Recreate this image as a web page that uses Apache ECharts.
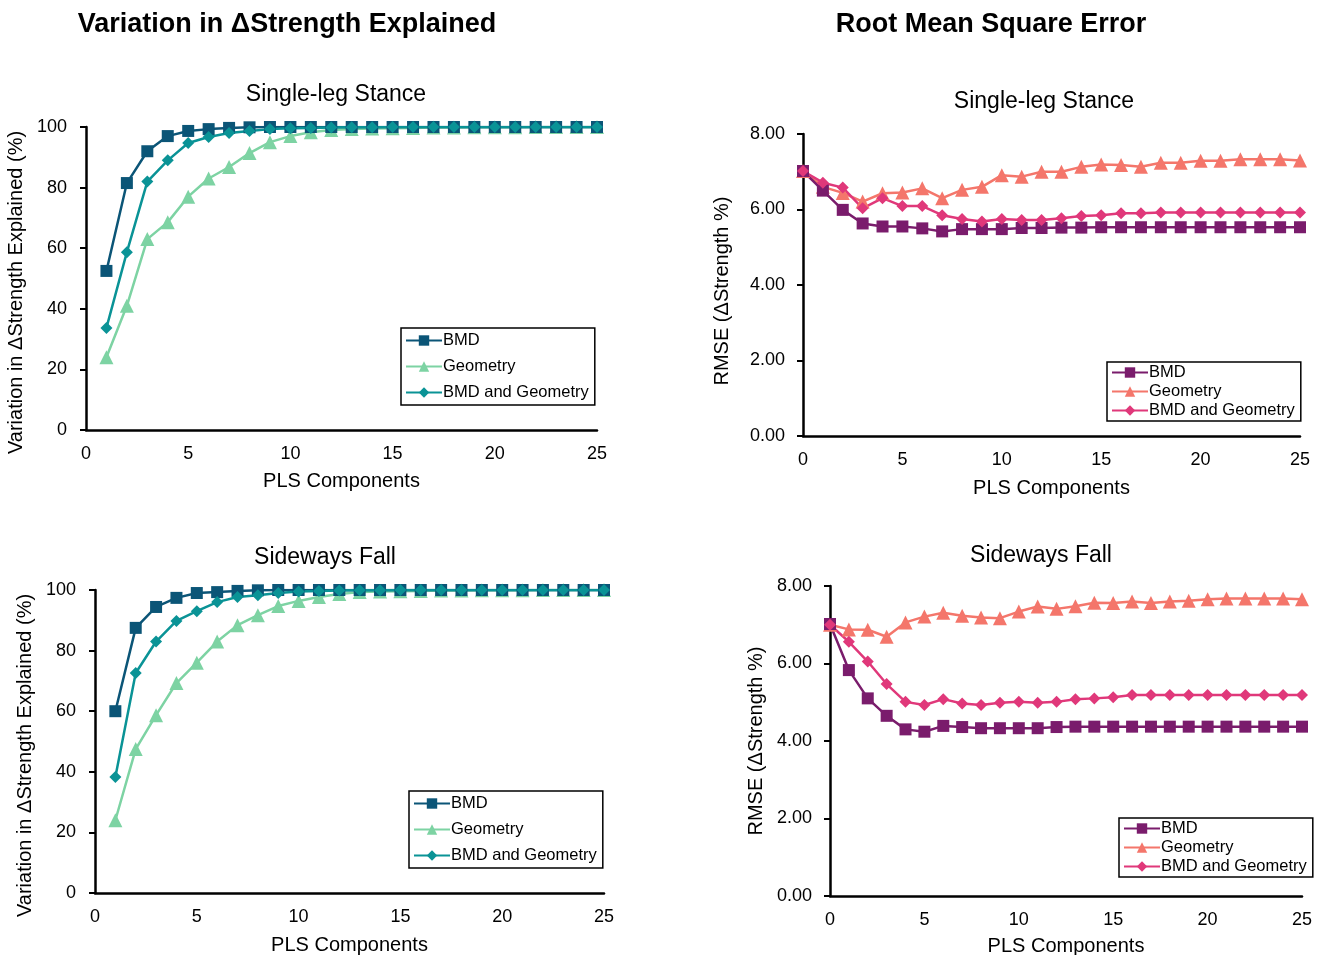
<!DOCTYPE html>
<html>
<head>
<meta charset="utf-8">
<script src="https://cdn.jsdelivr.net/npm/echarts@6/dist/echarts.min.js"></script>
<style>
  body { margin: 0; background: #fff; }
  .box { position: absolute; }
</style>
</head>
<body>
<div id="tl" class="box" style="left:0;top:0;width:660px;height:500px"></div>
<div id="tr" class="box" style="left:660px;top:0;width:661px;height:500px"></div>
<div id="bl" class="box" style="left:0;top:500px;width:660px;height:455px"></div>
<div id="br" class="box" style="left:660px;top:500px;width:661px;height:455px"></div>
<script>
var plsLeft = [1, 2, 3, 4, 5, 6, 7, 8, 9, 10, 11, 12, 13, 14, 15, 16, 17, 18, 19, 20, 21, 22, 23, 24, 25];
var plsRight = [0, 1, 2, 3, 4, 5, 6, 7, 8, 9, 10, 11, 12, 13, 14, 15, 16, 17, 18, 19, 20, 21, 22, 23, 24, 25];
var seriesNames = ['BMD', 'Geometry', 'BMD and Geometry'];

// variation explained (%), single-leg stance
var stanceVarBmd = [52.5, 81.5, 92.0, 97.0, 98.7, 99.3, 99.7, 99.9, 100, 100, 100, 100, 100, 100, 100, 100, 100, 100, 100, 100, 100, 100, 100, 100, 100];
var stanceVarGeo = [24.0, 41.0, 63.0, 68.6, 77.0, 83.0, 86.8, 91.4, 95.0, 97.0, 98.3, 99.0, 99.3, 99.5, 99.6, 99.7, 99.8, 99.8, 99.9, 99.9, 99.9, 100, 100, 100, 100];
var stanceVarBoth = [33.7, 58.7, 82.0, 89.0, 94.7, 96.7, 98.0, 98.7, 99.3, 99.6, 99.7, 99.8, 99.9, 99.9, 100, 100, 100, 100, 100, 100, 100, 100, 100, 100, 100];

// variation explained (%), sideways fall
var fallVarBmd = [60.0, 87.5, 94.4, 97.4, 99.0, 99.3, 99.7, 99.9, 100, 100, 100, 100, 100, 100, 100, 100, 100, 100, 100, 100, 100, 100, 100, 100, 100];
var fallVarGeo = [24.0, 47.5, 58.7, 69.3, 76.0, 83.0, 88.4, 91.7, 94.7, 96.4, 97.7, 98.7, 99.3, 99.5, 99.6, 99.7, 99.8, 99.8, 99.9, 99.9, 99.9, 100, 100, 100, 100];
var fallVarBoth = [38.3, 72.6, 83.0, 89.8, 93.0, 96.0, 97.7, 98.3, 99.0, 99.5, 99.7, 99.8, 99.9, 99.9, 100, 100, 100, 100, 100, 100, 100, 100, 100, 100, 100];

// RMSE, single-leg stance
var stanceRmseBmd = [7.02, 6.50, 5.99, 5.63, 5.55, 5.55, 5.50, 5.42, 5.48, 5.48, 5.48, 5.51, 5.51, 5.52, 5.52, 5.53, 5.53, 5.53, 5.53, 5.53, 5.53, 5.53, 5.53, 5.53, 5.53, 5.53];
var stanceRmseGeo = [7.02, 6.60, 6.44, 6.21, 6.43, 6.45, 6.56, 6.30, 6.52, 6.60, 6.91, 6.87, 7.00, 7.00, 7.13, 7.19, 7.18, 7.13, 7.24, 7.24, 7.29, 7.29, 7.33, 7.33, 7.33, 7.30];
var stanceRmseBoth = [7.02, 6.71, 6.58, 6.03, 6.30, 6.09, 6.09, 5.85, 5.75, 5.68, 5.75, 5.72, 5.72, 5.77, 5.83, 5.85, 5.90, 5.90, 5.92, 5.92, 5.92, 5.92, 5.92, 5.92, 5.92, 5.92];

// RMSE, sideways fall
var fallRmseBmd = [7.02, 5.83, 5.10, 4.65, 4.30, 4.24, 4.39, 4.36, 4.33, 4.33, 4.33, 4.33, 4.36, 4.37, 4.37, 4.37, 4.37, 4.37, 4.37, 4.37, 4.37, 4.37, 4.37, 4.37, 4.37, 4.37];
var fallRmseGeo = [7.00, 6.88, 6.87, 6.69, 7.06, 7.21, 7.31, 7.23, 7.19, 7.17, 7.34, 7.47, 7.41, 7.48, 7.57, 7.56, 7.60, 7.56, 7.60, 7.62, 7.66, 7.68, 7.68, 7.68, 7.68, 7.66];
var fallRmseBoth = [7.00, 6.56, 6.05, 5.47, 5.01, 4.93, 5.08, 4.97, 4.93, 4.99, 5.01, 4.99, 5.01, 5.08, 5.10, 5.13, 5.19, 5.19, 5.19, 5.19, 5.19, 5.19, 5.19, 5.19, 5.19, 5.19];

var font = "Arial, 'Liberation Sans', sans-serif";
var blues = ['#0b5577', '#7dd3a3', '#0a9396'];
var purples = ['#7a1c6c', '#f4766b', '#e0387a'];

function pairs(xs, ys) {
  return xs.map(function (x, i) { return [x, ys[i]]; });
}

function makeChart(id, c) {
  var symbols = ['rect', 'triangle', 'diamond'];
  var sizes = [12, 14, 12];
  var order = [1, 0, 2]; // draw geometry first so the others sit on top
  var series = order.map(function (k) {
    return {
      name: seriesNames[k],
      type: 'line',
      data: pairs(c.x, c.data[k]),
      symbol: symbols[k],
      symbolSize: sizes[k],
      showAllSymbol: true,
      lineStyle: { width: 2.5, color: c.colors[k] },
      itemStyle: { color: c.colors[k] },
      emphasis: { disabled: true }
    };
  });

  var titles = [{
    text: c.sub, left: c.subX, top: c.subY, textAlign: 'center',
    textStyle: { fontFamily: font, fontSize: 23, fontWeight: 'normal', color: '#000' }
  }];
  if (c.main) {
    titles.push({
      text: c.main, left: c.mainX, top: 6, textAlign: 'center',
      textStyle: { fontFamily: font, fontSize: 27, fontWeight: 'bold', color: '#000' }
    });
  }

  var grid = c.grid;
  grid.outerBoundsMode = 'none';
  grid.containLabel = false;

  var option = {
    animation: false,
    title: titles,
    grid: grid,
    legend: {
      data: seriesNames,
      orient: 'vertical',
      left: c.legend.left,
      top: c.legend.top,
      itemWidth: 36,
      itemHeight: 13,
      itemGap: c.legend.gap,
      padding: c.legend.pad,
      borderColor: '#000',
      borderWidth: 1.5,
      textStyle: { fontFamily: font, fontSize: 16.5, color: '#000', padding: [0, 0, 0, -4] }
    },
    xAxis: {
      type: 'value',
      min: 0,
      max: 25,
      interval: 5,
      name: 'PLS Components',
      nameLocation: 'middle',
      nameGap: c.xNameGap,
      nameTextStyle: { fontFamily: font, fontSize: 20, color: '#000' },
      axisLine: { lineStyle: { color: '#000', width: 2.5 } },
      axisTick: { show: false },
      splitLine: { show: false },
      axisLabel: { fontFamily: font, fontSize: 18, color: '#000', margin: 15 }
    },
    yAxis: {
      type: 'value',
      min: 0,
      max: c.yMax,
      interval: c.yStep,
      name: c.yName,
      nameLocation: 'middle',
      nameGap: c.yNameGap,
      nameTextStyle: { fontFamily: font, fontSize: 20, color: '#000', padding: [0, c.yShift, 0, 0] },
      axisLine: { show: true, lineStyle: { color: '#000', width: 2.5 } },
      axisTick: { show: true, length: 6, lineStyle: { color: '#000', width: 2 } },
      splitLine: { show: false },
      axisLabel: {
        fontFamily: font, fontSize: 18, color: '#000', margin: c.yLabelMargin,
        formatter: function (v) { return c.yDigits ? v.toFixed(c.yDigits) : String(v); }
      }
    },
    series: series
  };

  var chart = echarts.init(document.getElementById(id));
  chart.setOption(option);
  window.addEventListener('resize', function () {
    chart.resize();
  });
}

makeChart('tl', {
  main: 'Variation in \u0394Strength Explained', mainX: 282,
  sub: 'Single-leg Stance', subX: 331, subY: 78,
  grid: { left: 86, top: 127, width: 511, height: 303 },
  x: plsLeft,
  data: [stanceVarBmd, stanceVarGeo, stanceVarBoth],
  colors: blues,
  yMax: 100, yStep: 20, yDigits: 0, yLabelMargin: 19,
  yName: 'Variation in \u0394Strength Explained (%)', yNameGap: 57, yShift: 28,
  xNameGap: 41,
  legend: { left: 401, top: 328, gap: 9, pad: [4, 6, 4, 4] }
});

makeChart('tr', {
  main: 'Root Mean Square Error', mainX: 326,
  sub: 'Single-leg Stance', subX: 379, subY: 85,
  grid: { left: 143, top: 134, width: 497, height: 302 },
  x: plsRight,
  data: [stanceRmseBmd, stanceRmseGeo, stanceRmseBoth],
  colors: purples,
  yMax: 8, yStep: 2, yDigits: 2, yLabelMargin: 18,
  yName: 'RMSE (\u0394Strength %)', yNameGap: 71, yShift: 12,
  xNameGap: 42,
  legend: { left: 447, top: 362, gap: 2, pad: [2, 6, 2, 4] }
});

makeChart('bl', {
  sub: 'Sideways Fall', subX: 320, subY: 41,
  grid: { left: 95, top: 90, width: 509, height: 303 },
  x: plsLeft,
  data: [fallVarBmd, fallVarGeo, fallVarBoth],
  colors: blues,
  yMax: 100, yStep: 20, yDigits: 0, yLabelMargin: 19,
  yName: 'Variation in \u0394Strength Explained (%)', yNameGap: 57, yShift: 28,
  xNameGap: 42,
  legend: { left: 409, top: 291, gap: 9, pad: [4, 6, 4, 4] }
});

makeChart('br', {
  sub: 'Sideways Fall', subX: 376, subY: 39,
  grid: { left: 170, top: 86, width: 472, height: 310 },
  x: plsRight,
  data: [fallRmseBmd, fallRmseGeo, fallRmseBoth],
  colors: purples,
  yMax: 8, yStep: 2, yDigits: 2, yLabelMargin: 18,
  yName: 'RMSE (\u0394Strength %)', yNameGap: 64, yShift: 0,
  xNameGap: 40,
  legend: { left: 459, top: 318, gap: 2, pad: [2, 6, 2, 4] }
});
</script>
</body>
</html>
